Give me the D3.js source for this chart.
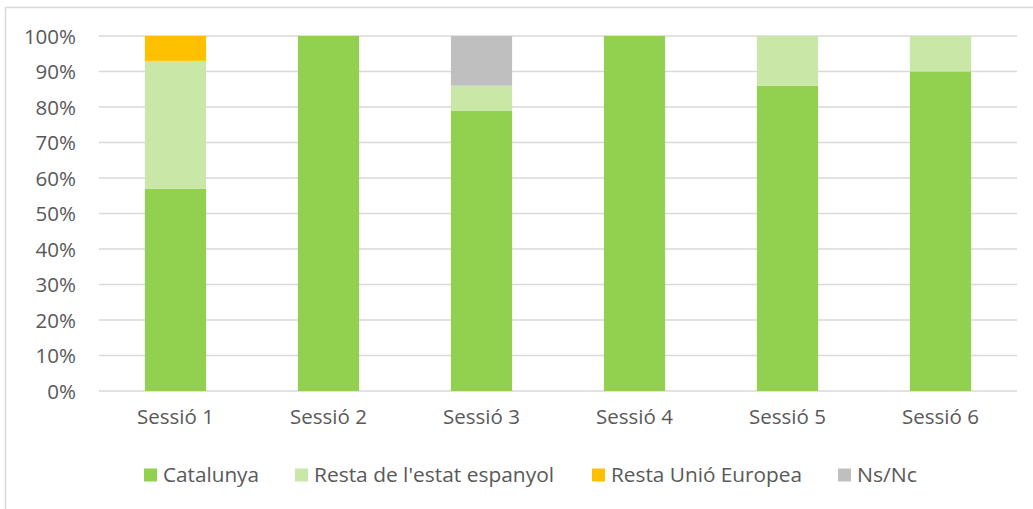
<!DOCTYPE html>
<html>
<head>
<meta charset="utf-8">
<script src="https://cdn.jsdelivr.net/npm/d3@7"></script>
<style>
  html, body { margin: 0; padding: 0; background: #fff; }
  svg { display: block; }
  text { font-family: "Open Sans", sans-serif; fill: #595959; }
</style>
</head>
<body>
<svg id="chart" width="1033" height="509"></svg>
<script>
const categories = ["Sessió 1", "Sessió 2", "Sessió 3", "Sessió 4", "Sessió 5", "Sessió 6"];
const seriesNames = ["Catalunya", "Resta de l'estat espanyol", "Resta Unió Europea", "Ns/Nc"];
const catalunya = [57, 100, 79, 100, 86, 90];
const restaEstat = [36, 0, 7, 0, 14, 10];
const restaUE = [7, 0, 0, 0, 0, 0];
const nsnc = [0, 0, 14, 0, 0, 0];
const yTicks = [0, 10, 20, 30, 40, 50, 60, 70, 80, 90, 100];
const colors = ["#92D050", "#C9E7A7", "#FFC000", "#BFBFBF"];

const seriesValues = [catalunya, restaEstat, restaUE, nsnc];
const rows = categories.map((c, i) => {
  const r = { cat: c };
  seriesNames.forEach((s, j) => r[s] = seriesValues[j][i]);
  return r;
});

const svg = d3.select("#chart");

// outer frame
svg.append("rect")
  .attr("x", 5.5).attr("y", 7.5)
  .attr("width", 1100).attr("height", 600)
  .attr("fill", "none").attr("stroke", "#D9D9D9").attr("stroke-width", 1.5);

const x = d3.scaleBand().domain(categories).range([99, 1017]).paddingInner(0.6).paddingOuter(0.3);
const y = d3.scaleLinear().domain([0, 100]).range([391, 36]);

// gridlines
svg.append("g").selectAll("line").data(yTicks).join("line")
  .attr("x1", 99).attr("x2", 1017)
  .attr("y1", d => y(d)).attr("y2", d => y(d))
  .attr("stroke", "#D9D9D9").attr("stroke-width", 1.5);

// bars
const stack = d3.stack().keys(seriesNames)(rows);
svg.append("g").selectAll("g").data(stack).join("g")
  .attr("fill", (d, i) => colors[i])
  .selectAll("rect").data(d => d).join("rect")
  .attr("x", d => x(d.data.cat))
  .attr("width", x.bandwidth())
  .attr("y", d => y(d[1]))
  .attr("height", d => y(d[0]) - y(d[1]));

// y axis
const yAxis = svg.append("g").attr("transform", "translate(99,0)")
  .call(d3.axisLeft(y).tickValues(yTicks).tickFormat(d => d + "%").tickSize(0).tickPadding(23));
yAxis.select(".domain").remove();
yAxis.selectAll("text").style("font-size", "20.5px").attr("fill", "#595959").attr("dy", "0.36em");

// x axis
const xAxis = svg.append("g").attr("transform", "translate(0,391)")
  .call(d3.axisBottom(x).tickSize(0).tickPadding(18));
xAxis.select(".domain").remove();
xAxis.selectAll("text").style("font-size", "20.5px").attr("fill", "#595959");

// legend
const legendX = [144, 295, 592, 838];
const legendWidths = [96, 240, 191, 60];
const lg = svg.append("g").selectAll("g").data(seriesNames).join("g")
  .attr("transform", (d, i) => `translate(${legendX[i]},0)`);
lg.append("rect").attr("x", 0).attr("y", 468.5).attr("width", 13).attr("height", 13)
  .attr("fill", (d, i) => colors[i]);
lg.append("text").attr("x", 19).attr("y", 482)
  .style("font-size", "20.5px")
  .attr("textLength", (d, i) => legendWidths[i])
  .attr("lengthAdjust", "spacingAndGlyphs")
  .text(d => d);
</script>
</body>
</html>
